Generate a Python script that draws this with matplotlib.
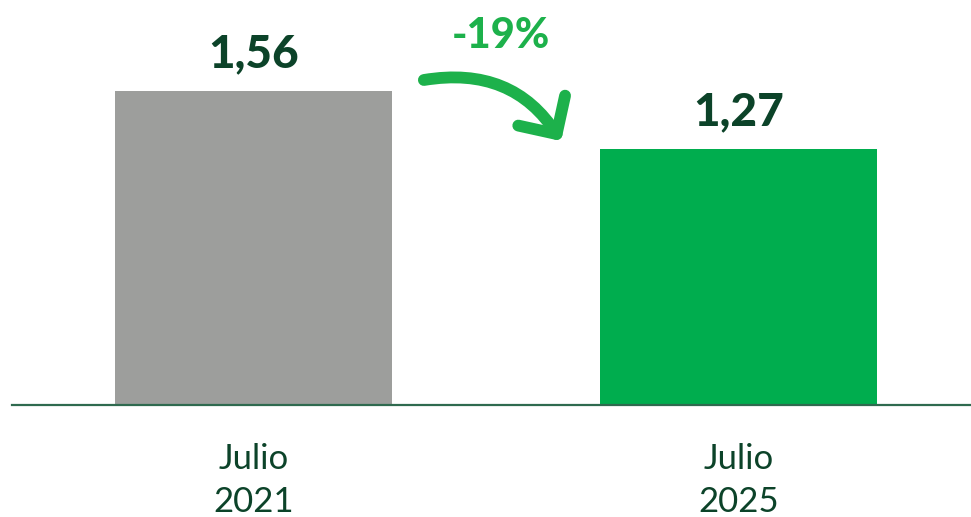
import matplotlib.pyplot as plt
from matplotlib.patches import FancyArrowPatch

periodos = ["Julio\n2021", "Julio\n2025"]
valores = [1.56, 1.27]
etiquetas = ["1,56", "1,27"]
variacion = "-19%"

colores = ["#9d9e9c", "#00ad4e"]
verde_oscuro = "#0c4329"
verde_flecha = "#1db14b"

plt.rcParams['font.family'] = ['Lato', 'DejaVu Sans']

fig = plt.figure(figsize=(9.71, 5.17), dpi=100)
ax = fig.add_axes([0.0124, 0.2166, 0.9876, 0.7834])

x = list(range(len(valores)))
ax.bar(x, valores, width=0.571, color=colores)

for xi, v, lab in zip(x, valores, etiquetas):
    ax.annotate(lab, (xi, v), xytext=(0, 17), textcoords="offset points",
                ha="center", va="baseline", fontsize=33, fontweight="black",
                color=verde_oscuro)

ax.set_xlim(-0.498, 1.479)
ax.set_ylim(0, 2.01)

for s in ["top", "right", "left"]:
    ax.spines[s].set_visible(False)
ax.spines["bottom"].set_color("#2f6a4f")
ax.spines["bottom"].set_linewidth(1.6)
ax.set_yticks([])
ax.set_xticks(x)
ax.set_xticklabels(periodos, fontsize=25, color=verde_oscuro, linespacing=1.45)
ax.tick_params(axis="x", length=0, pad=27)

# flecha curva entre barras
flecha = FancyArrowPatch((0.351, 1.613), (0.634, 1.31),
                         connectionstyle="arc3,rad=-0.33",
                         arrowstyle="->,head_length=1.0,head_width=1.0",
                         color=verde_flecha, linewidth=8.5, capstyle="round",
                         joinstyle="round", mutation_scale=20,
                         shrinkA=0, shrinkB=0)
ax.add_patch(flecha)
ax.text(0.51, 1.83, variacion, ha="center", va="center", fontsize=30,
        fontweight="black", color=verde_flecha)

fig.savefig("out.png", dpi=100)
